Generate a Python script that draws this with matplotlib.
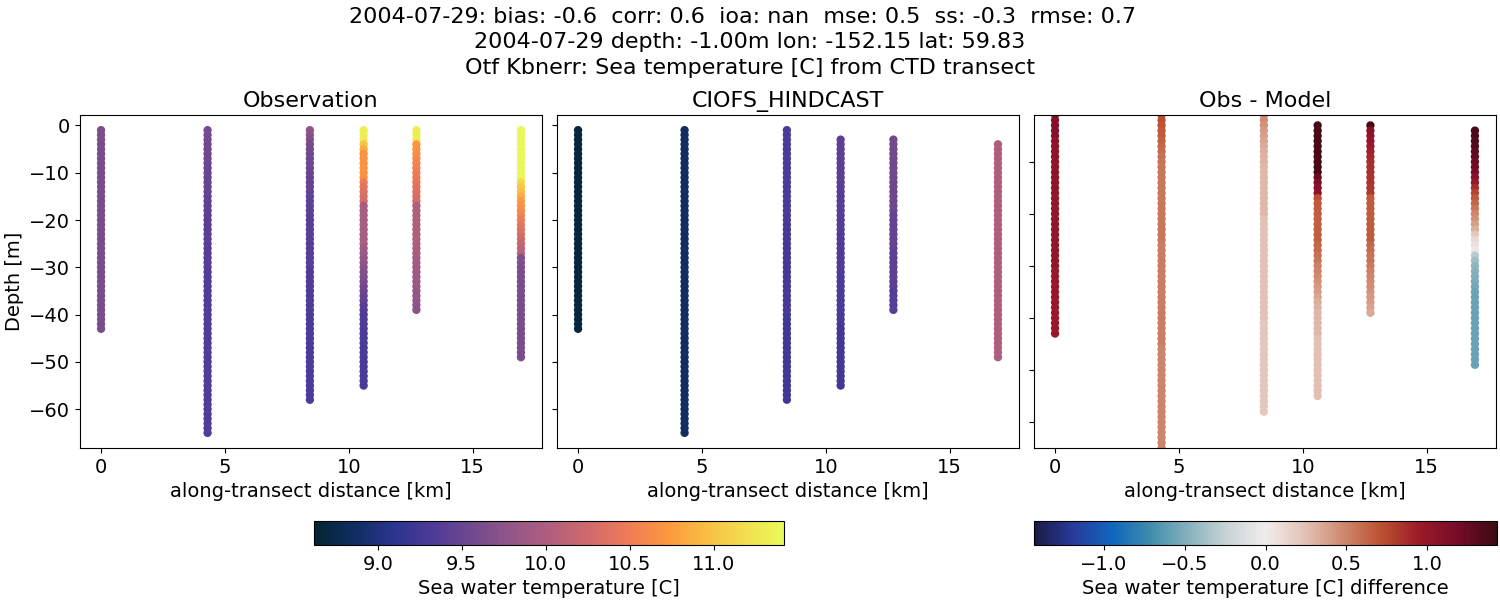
import matplotlib

matplotlib.use("Agg")
import matplotlib.pyplot as plt
from matplotlib.colors import LinearSegmentedColormap, Normalize
import numpy as np

# along-transect position of each cast [km]
dist = [0.0, 4.3, 8.43, 10.6, 12.73, 16.95]

# first and last depth bin of each cast, 1 m apart
obs_top = [-1, -1, -1, -1, -1, -1]
obs_bottom = [-43, -65, -58, -55, -39, -49]
model_top = [-1, -1, -1, -3, -3, -4]
model_bottom = [-43, -65, -58, -55, -39, -49]

# temperature, one value per depth bin, shallow to deep
obs_temp = [
    [9.64] * 3 + [9.62] * 40,
    [9.60, 9.59, 9.58, 9.57, 9.56, 9.55, 9.54, 9.53, 9.52, 9.51]
    + [9.50, 9.49, 9.48, 9.47, 9.46, 9.45, 9.44, 9.43, 9.42, 9.41]
    + [9.40] * 5 + [9.38] * 5 + [9.36] * 35,
    [9.78, 9.72, 9.66, 9.62, 9.6, 9.58, 9.56, 9.54, 9.53, 9.52]
    + [9.5, 9.49, 9.48, 9.47, 9.46, 9.45, 9.44, 9.43, 9.42, 9.41]
    + [9.40] * 4 + [9.38] * 6 + [9.34] * 10 + [9.32] * 18,
    [11.32] * 3 + [11.0, 10.85] + [10.68] * 6 + [10.5, 10.42, 10.38, 10.34, 10.3]
    + [9.95] * 9 + [9.9, 9.86, 9.82, 9.78, 9.74, 9.7, 9.66]
    + [9.62, 9.58, 9.54, 9.5, 9.46, 9.42, 9.38] + [9.34] * 4 + [9.3] * 12,
    [11.32] * 3
    + [10.72, 10.7, 10.66, 10.62, 10.58, 10.54, 10.5, 10.46, 10.42, 10.39, 10.36, 10.33, 10.29]
    + [10.03] * 9
    + [10.0, 9.98, 9.96, 9.94, 9.92, 9.9, 9.88, 9.86, 9.84, 9.82, 9.8, 9.78, 9.76, 9.74],
    [11.4] * 11
    + [11.15, 11.05, 10.95, 10.85, 10.75, 10.68, 10.62, 10.56, 10.5, 10.44, 10.38, 10.32, 10.26, 10.2, 10.14, 10.1]
    + [9.68, 9.66, 9.64] + [9.62] * 19,
]

model_temp = [
    [8.68] * 43,
    [8.87] * 65,
    [9.3] * 20 + [9.27] * 20 + [9.24] * 18,
    [9.42] * 10 + [9.38] * 10 + [9.34] * 10 + [9.3] * 10 + [9.25] * 13,
    [9.58] * 8 + [9.54] * 8 + [9.48] * 8 + [9.42] * 8 + [9.38] * 5,
    [10.0] * 46,
]

diff_temp = [
    [1.1] * 5 + [1.05] * 10 + [1.02] * 15 + [0.98] * 13,
    [0.74, 0.72, 0.70, 0.68, 0.66, 0.64, 0.62, 0.6, 0.58, 0.56]
    + [0.55] * 15 + [0.53] * 20 + [0.5] * 20,
    [0.5, 0.47, 0.44, 0.41, 0.38, 0.36, 0.34, 0.32, 0.31, 0.3]
    + [0.28] * 10 + [0.24] * 20 + [0.22] * 18,
    [1.38] * 10 + [1.25, 1.15, 1.08, 1.05]
    + [0.72, 0.68, 0.66, 0.65, 0.65, 0.65, 0.65, 0.65, 0.65]
    + [0.62, 0.6, 0.57, 0.55, 0.52, 0.5, 0.47, 0.44, 0.42, 0.39, 0.36, 0.33, 0.31]
    + [0.28] * 5 + [0.25] * 12,
    [1.38, 1.08, 1.03, 1.0, 0.97, 0.93, 0.9, 0.88, 0.86, 0.85, 0.84, 0.83, 0.82, 0.81]
    + [0.66] * 9
    + [0.62, 0.6, 0.58, 0.56, 0.54, 0.52, 0.5, 0.48, 0.46, 0.44, 0.42, 0.4, 0.37, 0.34],
    [1.38, 1.36, 1.34, 1.32, 1.3, 1.28, 1.25, 1.22, 1.17]
    + [1.08, 1.0, 0.88, 0.76, 0.68, 0.62, 0.56, 0.5, 0.45, 0.4, 0.32, 0.22, 0.12, 0.06, 0.03]
    + [-0.3, -0.38, -0.44, -0.48, -0.5, -0.52, -0.54, -0.56] + [-0.58] * 14,
]

temp_min, temp_max = 8.62, 11.42
diff_lim = 1.43

# cmocean is not available, so thermal and balance are approximated by hand
thermal = LinearSegmentedColormap.from_list(
    "thermal",
    ["#042333", "#0f2e60", "#2a348f", "#4e3a98", "#70488f", "#925688",
     "#b05e7e", "#cf6a6c", "#ee7b57", "#fc963f", "#f9bd42", "#f3dd50", "#e8fa5b"],
)
balance = LinearSegmentedColormap.from_list(
    "balance",
    ["#181c43", "#2a3a9c", "#0f66bd", "#3f8cab", "#87b2bd", "#c9d3d6", "#f1ecec",
     "#e3c3b7", "#cf8a70", "#bb5131", "#9c1a2a", "#760c28", "#3c0912"],
)


def draw_casts(ax, top, bottom, values, cmap, vmin, vmax):
    for x, t, b, v in zip(dist, top, bottom, values):
        depth = np.arange(t, b - 1, -1)
        ax.scatter([x] * len(depth), depth, c=v, s=36, linewidths=0, cmap=cmap, vmin=vmin, vmax=vmax)


fig = plt.figure(figsize=(15, 6), dpi=100)
plt.rcParams["font.size"] = 14


def px_axes(x0, y0, x1, y1):
    return fig.add_axes([x0 / 1500, 1 - y1 / 600, (x1 - x0) / 1500, (y1 - y0) / 600])


ax1 = px_axes(80, 115, 542, 448)
ax2 = px_axes(557, 115, 1019, 448)
ax3 = px_axes(1034, 115, 1496, 448)

draw_casts(ax1, obs_top, obs_bottom, obs_temp, thermal, temp_min, temp_max)
draw_casts(ax2, model_top, model_bottom, model_temp, thermal, temp_min, temp_max)
draw_casts(ax3, model_top, model_bottom, diff_temp, balance, -diff_lim, diff_lim)

for ax, title in zip([ax1, ax2, ax3], ["Observation", "CIOFS_HINDCAST", "Obs - Model"]):
    ax.set_xlim(-0.85, 17.8)
    ax.set_xticks([0, 5, 10, 15])
    ax.tick_params(labelsize=14)
    ax.set_xlabel("along-transect distance [km]", fontsize=14)
    ax.set_title(title, fontsize=16)

for ax in [ax1, ax2]:
    ax.set_ylim(-68.2, 2.2)
    ax.set_yticks([0, -10, -20, -30, -40, -50, -60])
ax1.set_ylabel("Depth [m]", fontsize=14)
ax2.set_yticklabels([])

ax3.set_ylim(-65, -1)
ax3.set_yticks([-10, -20, -30, -40, -50, -60])
ax3.set_yticklabels([])

cax1 = px_axes(314, 521, 784, 545)
cb1 = fig.colorbar(plt.cm.ScalarMappable(Normalize(temp_min, temp_max), thermal), cax=cax1, orientation="horizontal")
cb1.set_ticks([9.0, 9.5, 10.0, 10.5, 11.0])
cb1.ax.tick_params(labelsize=14)
cb1.set_label("Sea water temperature [C]", fontsize=14)

cax2 = px_axes(1034, 521, 1497, 545)
cb2 = fig.colorbar(plt.cm.ScalarMappable(Normalize(-diff_lim, diff_lim), balance), cax=cax2, orientation="horizontal")
cb2.set_ticks([-1.0, -0.5, 0.0, 0.5, 1.0])
cb2.ax.tick_params(labelsize=14)
cb2.set_label("Sea water temperature [C] difference", fontsize=14)

fig.suptitle(
    "2004-07-29: bias: -0.6  corr: 0.6  ioa: nan  mse: 0.5  ss: -0.3  rmse: 0.7  \n"
    "2004-07-29 depth: -1.00m lon: -152.15 lat: 59.83\n"
    "Otf Kbnerr: Sea temperature [C] from CTD transect",
    fontsize=16, y=0.988, linespacing=1.33,
)

fig.savefig("out.png", dpi=100)
